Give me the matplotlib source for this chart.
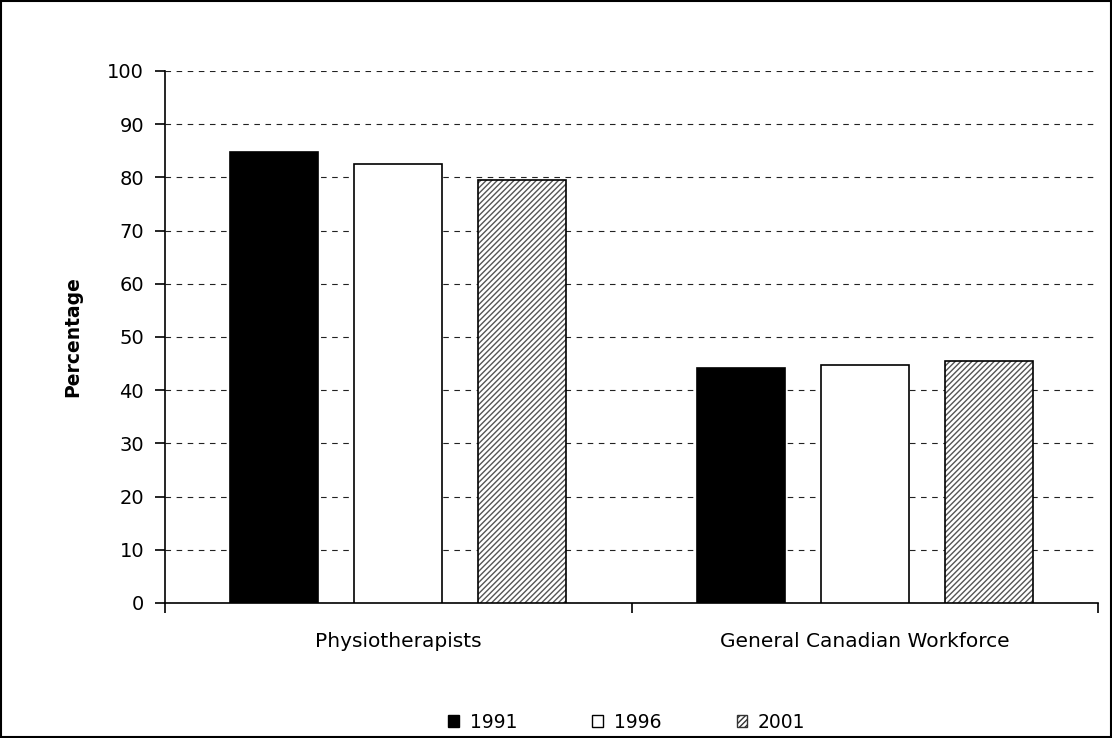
import matplotlib
matplotlib.use('Agg')
from matplotlib import pyplot as plt
from matplotlib.patches import Patch, Rectangle
import numpy as np

plt.rcParams['font.family'] = ['DejaVu Sans']

# data
categories = ['Physiotherapists', 'General Canadian Workforce']
years = ['1991', '1996', '2001']
values = {
    '1991': [84.7, 44.2],
    '1996': [82.5, 44.8],
    '2001': [79.6, 45.5],
}

fig = plt.figure(figsize=(11.12, 7.38), dpi=100)
ax = fig.add_axes([165 / 1112, 1 - 603 / 738, (1098 - 165) / 1112, (603 - 71) / 738])

x = np.arange(len(categories))
width = 0.189
offsets = [-0.266, 0, 0.266]

# 1991 black, 1996 white, 2001 hatched
for yr, off in zip(years, offsets):
    v = values[yr]
    if yr == '1991':
        ax.bar(x + off, v, width, color='black', edgecolor='black', linewidth=1.2, zorder=3)
    elif yr == '1996':
        ax.bar(x + off, v, width, color='white', edgecolor='black', linewidth=1.2, zorder=3)
    else:
        ax.bar(x + off, v, width, color='white', edgecolor='#555555', hatch='//////',
               linewidth=0, zorder=3)
        ax.bar(x + off, v, width, color='none', edgecolor='black', linewidth=1.2, zorder=4)

ax.set_xlim(-0.5, 1.5)
ax.set_ylim(0, 100)
ax.set_yticks(np.arange(0, 101, 10))
ax.yaxis.grid(True, linestyle=(0, (5, 5)), color='#222222', linewidth=0.8, zorder=0)
ax.set_axisbelow(True)

for s in ['top', 'right']:
    ax.spines[s].set_visible(False)
ax.spines['left'].set_linewidth(1.2)
ax.spines['bottom'].set_linewidth(1.2)

ax.set_xticks([-0.5, 0.5, 1.5])
ax.set_xticklabels([])
ax.set_xticks(x, minor=True)
ax.set_xticklabels(categories, minor=True, fontsize=14.5)
ax.tick_params(axis='x', which='minor', length=0, pad=21)
ax.tick_params(axis='x', which='major', length=7, width=1.2, direction='out')
ax.tick_params(axis='y', length=7, width=1.2, labelsize=14, pad=8)

ax.set_ylabel('Percentage', fontsize=13.5, fontweight='bold', labelpad=18)

handles = [
    Patch(facecolor='black', edgecolor='black', label='1991'),
    Patch(facecolor='white', edgecolor='black', label='1996'),
    Patch(facecolor='white', edgecolor='#333333', hatch='//////', label='2001'),
]
fig.legend(handles=handles, loc='center', bbox_to_anchor=(627 / 1112, 1 - 722 / 738),
           ncol=3, frameon=False, fontsize=13.5, handlelength=0.55, handleheight=0.55,
           handletextpad=0.6, columnspacing=4.0)

fig.patches.append(Rectangle((0.001, 0.001), 0.998, 0.998, transform=fig.transFigure,
                             fill=False, edgecolor='black', linewidth=1.5))

fig.savefig('out.png', dpi=100)
